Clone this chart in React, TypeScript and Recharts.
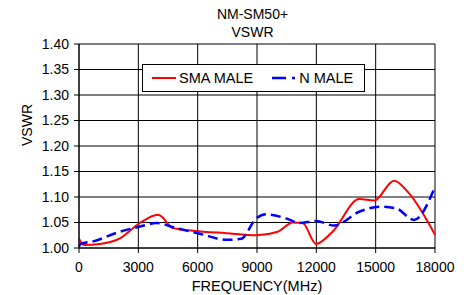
import { LineChart, Line, XAxis, YAxis, CartesianGrid, Legend } from "recharts";

const freqTicks = [0, 3000, 6000, 9000, 12000, 15000, 18000];
const vswrTicks = [1.0, 1.05, 1.1, 1.15, 1.2, 1.25, 1.3, 1.35, 1.4];

const smaFreq = [0, 250, 1060, 2070, 3080, 4000, 4760, 5770, 7450, 8960, 10050, 10810, 11310, 11980, 12820, 14170, 14920, 15930, 16690, 18000];
const smaVswr = [1.018, 1.006, 1.008, 1.019, 1.049, 1.065, 1.039, 1.034, 1.029, 1.025, 1.032, 1.05, 1.049, 1.008, 1.032, 1.096, 1.093, 1.132, 1.107, 1.026];

const nFreq = [0, 100, 720, 2070, 3080, 3920, 4920, 6100, 7450, 8200, 8960, 9460, 10470, 11140, 11980, 12910, 14170, 15180, 16020, 16940, 17950];
const nVswr = [1.003, 1.008, 1.013, 1.032, 1.042, 1.049, 1.039, 1.028, 1.016, 1.018, 1.058, 1.066, 1.058, 1.049, 1.053, 1.044, 1.071, 1.081, 1.078, 1.055, 1.115];

const smaData = smaFreq.map((f, i) => ({ freq: f, vswr: smaVswr[i] }));
const nData = nFreq.map((f, i) => ({ freq: f, vswr: nVswr[i] }));

const font = "'Liberation Sans', Arial, sans-serif";

function LegendBox() {
  return (
    <div
      style={{
        width: 221,
        height: 26,
        border: "1px solid #000",
        background: "#fff",
        display: "flex",
        alignItems: "center",
        fontFamily: font,
        fontSize: 14.5,
        color: "#000",
      }}
    >
      <svg width={24} height={4} style={{ marginLeft: 9, marginRight: 3 }}>
        <line x1={0} y1={2} x2={24} y2={2} stroke="#ff0000" strokeWidth={2} />
      </svg>
      <span>SMA MALE</span>
      <svg width={23} height={4} style={{ marginLeft: 19, marginRight: 4 }}>
        <line x1={0} y1={2} x2={23} y2={2} stroke="#0000ff" strokeWidth={2.5} strokeDasharray="14 6" />
      </svg>
      <span>N MALE</span>
    </div>
  );
}

export default function App() {
  return (
    <div style={{ position: "absolute", left: 0, top: 0, width: 470, height: 295, background: "#fff" }}>
      <div
        style={{
          position: "absolute",
          left: 0,
          top: 5,
          width: 505,
          textAlign: "center",
          fontFamily: font,
          fontSize: 14,
          lineHeight: "18px",
          color: "#000",
        }}
      >
        NM-SM50+
        <br />
        VSWR
      </div>
      <LineChart width={470} height={295} margin={{ top: 44, right: 35, left: 0, bottom: 0 }}>
        <CartesianGrid stroke="#000" strokeOpacity={1} />
        <XAxis
          type="number"
          dataKey="freq"
          domain={[0, 18000]}
          ticks={freqTicks}
          allowDuplicatedCategory={false}
          height={47}
          stroke="#000"
          tickSize={5}
          tickMargin={9}
          tick={{ fill: "#000", fontSize: 14, fontFamily: font }}
          label={{ value: "FREQUENCY(MHz)", position: "insideBottom", offset: 4, fill: "#000", fontSize: 14.5, fontFamily: font }}
        />
        <YAxis
          type="number"
          dataKey="vswr"
          domain={[1, 1.4]}
          ticks={vswrTicks}
          width={79}
          stroke="#000"
          tickSize={5}
          tickMargin={5}
          tickFormatter={(v: number) => v.toFixed(2)}
          tick={{ fill: "#000", fontSize: 14, fontFamily: font }}
          label={{ value: "VSWR", angle: -90, position: "insideLeft", offset: 27, fill: "#000", fontSize: 14, fontFamily: font }}
        />
        <Legend
          layout="horizontal"
          align="center"
          verticalAlign="middle"
          wrapperStyle={{ left: 142, top: 64, width: 223 }}
          content={() => <LegendBox />}
        />
        <Line
          data={smaData}
          dataKey="vswr"
          name="SMA MALE"
          type="monotone"
          stroke="#ff0000"
          strokeWidth={2}
          dot={false}
          isAnimationActive={false}
        />
        <Line
          data={nData}
          dataKey="vswr"
          name="N MALE"
          type="monotone"
          stroke="#0000ff"
          strokeWidth={2.5}
          strokeDasharray="10 5"
          dot={false}
          isAnimationActive={false}
        />
      </LineChart>
    </div>
  );
}
